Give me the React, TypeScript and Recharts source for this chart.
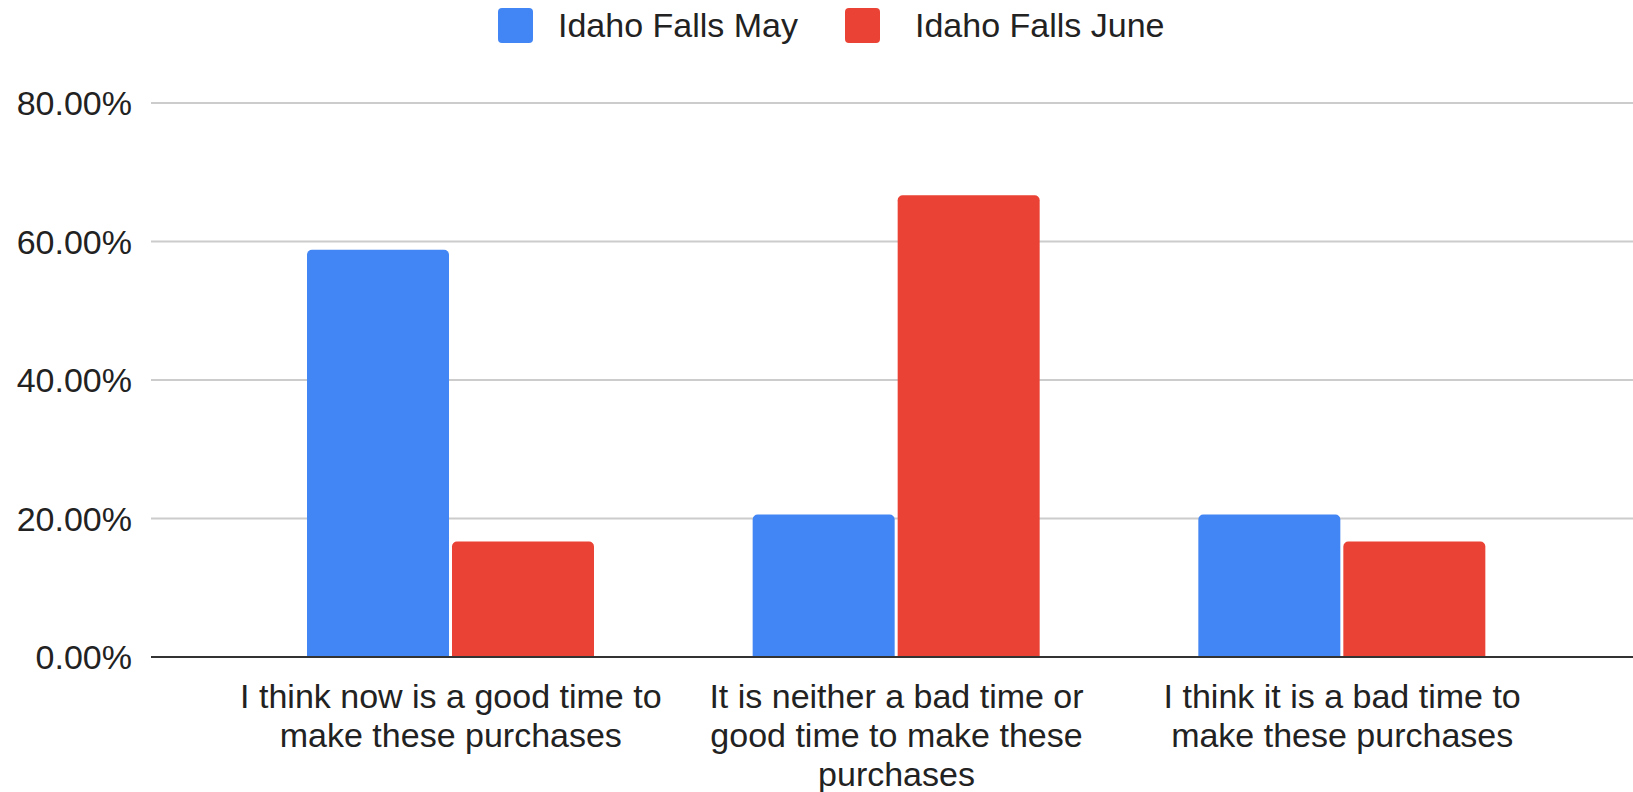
import React from 'react';
import {
  BarChart,
  Bar,
  XAxis,
  YAxis,
  CartesianGrid,
} from 'recharts';

const categories = [
  'I think now is a good time to make these purchases',
  'It is neither a bad time or good time to make these purchases',
  'I think it is a bad time to make these purchases',
];
const mayValues = [0.5882, 0.2059, 0.2059];
const juneValues = [0.1667, 0.6667, 0.1667];
const yTicks = [0, 0.2, 0.4, 0.6, 0.8];

const SERIES = [
  { key: 'may', name: 'Idaho Falls May', color: '#4285F4' },
  { key: 'june', name: 'Idaho Falls June', color: '#EA4335' },
];

const FONT = '"Liberation Sans", Arial, sans-serif';
const FONT_SIZE = 34;

const data = categories.map((c, i) => ({ category: c, may: mayValues[i], june: juneValues[i] }));

let ctx: CanvasRenderingContext2D | null = null;
function textWidth(s: string) {
  if (!ctx) ctx = document.createElement('canvas').getContext('2d');
  if (!ctx) return s.length * FONT_SIZE * 0.5;
  ctx.font = `${FONT_SIZE}px ${FONT}`;
  return ctx.measureText(s).width;
}

// word wrap for the category labels
function wrap(label: string, maxWidth: number) {
  const words = label.split(' ');
  const lines: string[] = [];
  let cur = '';
  words.forEach(w => {
    const next = cur ? cur + ' ' + w : w;
    if (cur && textWidth(next) > maxWidth) {
      lines.push(cur);
      cur = w;
    } else {
      cur = next;
    }
  });
  if (cur) lines.push(cur);
  return lines;
}

function CategoryTick({ x, y, payload }: { x?: number; y?: number; payload?: { value: string } }) {
  const lines = wrap(payload?.value ?? '', 440);
  return (
    <text x={x} y={(y ?? 0) + 51} textAnchor="middle" fill="#222" fontSize={FONT_SIZE} fontFamily={FONT}>
      {lines.map((l, i) => (
        <tspan key={i} x={x} dy={i === 0 ? 0 : 39}>{l}</tspan>
      ))}
    </text>
  );
}

export default function App() {
  return (
    <div style={{ position: 'absolute', left: 0, top: 0, width: 1633, height: 792, background: '#fff', fontFamily: FONT }}>
      {/* legend */}
      {SERIES.map((s, i) => (
        <div
          key={s.key}
          style={{
            position: 'absolute',
            left: i === 0 ? 498 : 845,
            top: 8,
            height: 35,
            display: 'flex',
            alignItems: 'center',
            whiteSpace: 'nowrap',
          }}
        >
          <div style={{ width: 35, height: 35, borderRadius: 4, background: s.color }} />
          <span style={{ marginLeft: i === 0 ? 25 : 35, fontSize: FONT_SIZE, lineHeight: '35px', color: '#222' }}>{s.name}</span>
        </div>
      ))}
      <BarChart
        width={1633}
        height={792}
        data={data}
        margin={{ top: 103, right: 0, bottom: 0, left: 0 }}
        barGap={3}
        barSize={142}
      >
        <CartesianGrid vertical={false} stroke="#cccccc" strokeWidth={2} />
        <XAxis
          dataKey="category"
          height={135}
          padding={{ left: 77, right: 68 }}
          axisLine={{ stroke: '#333', strokeWidth: 2 }}
          tickLine={false}
          tickSize={0}
          tickMargin={0}
          interval={0}
          tick={<CategoryTick />}
        />
        <YAxis
          width={151}
          domain={[0, 0.8]}
          ticks={yTicks}
          axisLine={false}
          tickLine={false}
          tickSize={0}
          tickMargin={19}
          tickFormatter={v => (v * 100).toFixed(2) + '%'}
          tick={{ fill: '#222', fontSize: FONT_SIZE, fontFamily: FONT }}
        />
        {SERIES.map(s => (
          <Bar key={s.key} dataKey={s.key} name={s.name} fill={s.color} radius={[5, 5, 0, 0]} isAnimationActive={false} />
        ))}
      </BarChart>
    </div>
  );
}
